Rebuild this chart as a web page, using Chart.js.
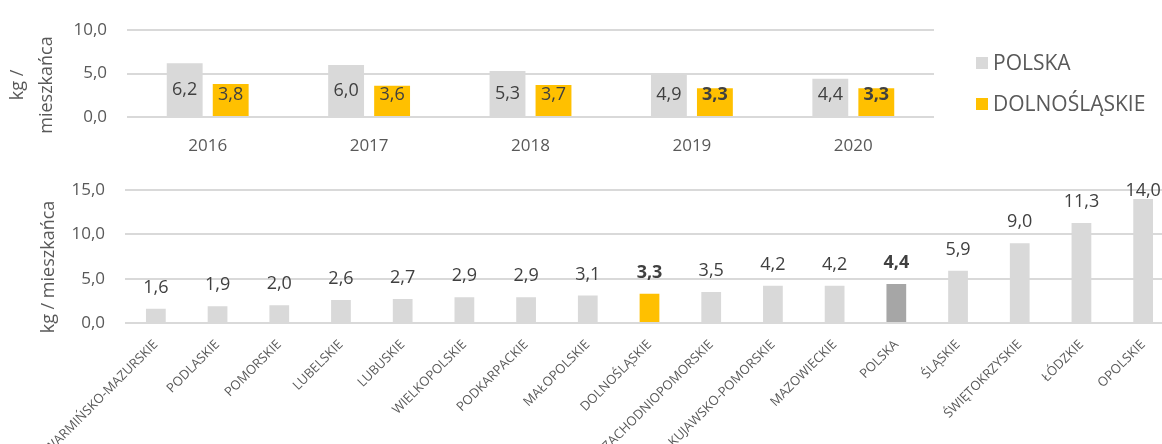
<!DOCTYPE html>
<html lang="pl">
<head>
<meta charset="utf-8">
<script src="https://cdn.jsdelivr.net/npm/chart.js@4.4.1/dist/chart.umd.min.js"></script>
<style>
  html,body{margin:0;padding:0;background:#fff;overflow:hidden;width:1162px;height:444px;}
  body{position:relative;font-family:"Open Sans",sans-serif;}
  #topWrap{position:absolute;left:0;top:0;width:1162px;height:165px;}
  #botWrap{position:absolute;left:0;top:160px;width:1200px;height:284px;}
  .ytitle{position:absolute;color:#595959;font-size:18px;white-space:nowrap;transform:translate(-50%,-50%) rotate(-90deg);line-height:1;}
  .legend{position:absolute;left:976px;color:#595959;font-size:21px;line-height:1;}
  .legend span{display:inline-block;width:12px;height:12px;margin-right:5px;vertical-align:1px;}
</style>
</head>
<body>
<div id="topWrap"><canvas id="topChart" width="1162" height="165"></canvas></div>
<div id="botWrap"><canvas id="botChart" width="1200" height="284"></canvas></div>

<div class="ytitle" style="left:16px;top:85px;">kg /</div>
<div class="ytitle" style="left:45px;top:85px;">mieszkańca</div>
<div class="ytitle" style="left:47px;top:267px;">kg / mieszkańca</div>

<div class="legend" style="top:52px;"><span style="background:#d9d9d9"></span>POLSKA</div>
<div class="legend" style="top:93px;"><span style="background:#ffc000"></span>DOLNOŚLĄSKIE</div>

<script>
// top chart: years
const years = ['2016','2017','2018','2019','2020'];
const polskaByYear = [6.2, 6.0, 5.3, 4.9, 4.4];
const dolnoByYear = [3.8, 3.6, 3.7, 3.3, 3.3];
const topTicks = [0, 5, 10];

// bottom chart: regions 2020
const regions = ['WARMIŃSKO-MAZURSKIE','PODLASKIE','POMORSKIE','LUBELSKIE','LUBUSKIE','WIELKOPOLSKIE',
  'PODKARPACKIE','MAŁOPOLSKIE','DOLNOŚLĄSKIE','ZACHODNIOPOMORSKIE','KUJAWSKO-POMORSKIE','MAZOWIECKIE',
  'POLSKA','ŚLĄSKIE','ŚWIĘTOKRZYSKIE','ŁÓDZKIE','OPOLSKIE'];
const regionValues = [1.6,1.9,2.0,2.6,2.7,2.9,2.9,3.1,3.3,3.5,4.2,4.2,4.4,5.9,9.0,11.3,14.0];
const botTicks = [0, 5, 10, 15];

const GRAY = '#d9d9d9', YELLOW = '#ffc000', DARK = '#a6a6a6';
const FONT = '"Open Sans", sans-serif';
const fmt = v => v.toFixed(1).replace('.', ',');

// value labels drawn on top of bars
const valueLabels = {
  id: 'valueLabels',
  afterDatasetsDraw(chart, args, opts) {
    const ctx = chart.ctx;
    ctx.save();
    ctx.textAlign = 'center';
    ctx.textBaseline = 'middle';
    ctx.fillStyle = '#404040';
    chart.data.datasets.forEach((ds, di) => {
      chart.getDatasetMeta(di).data.forEach((bar, i) => {
        const bold = opts.isBold(di, i);
        ctx.font = (bold ? 'bold ' : '') + '18px ' + FONT;
        let y;
        if (opts.mode === 'inside') {
          y = Math.min((bar.y + bar.base) / 2, bar.base - 21);
        } else {
          y = Math.max(bar.y - 21, chart.chartArea.top + 1);
        }
        ctx.fillText(fmt(ds.data[i]), bar.x, y);
      });
    });
    ctx.restore();
  }
};

new Chart(document.getElementById('topChart'), {
  type: 'bar',
  data: {
    labels: years,
    datasets: [
      {label: 'POLSKA', data: polskaByYear, backgroundColor: GRAY},
      {label: 'DOLNOŚLĄSKIE', data: dolnoByYear, backgroundColor: YELLOW}
    ]
  },
  options: {
    responsive: false,
    animation: false,
    layout: {padding: {left: 0, right: 228, top: 25, bottom: 0}},
    datasets: {bar: {categoryPercentage: 0.57, barPercentage: 0.78}},
    plugins: {
      legend: {display: false},
      tooltip: {enabled: false},
      valueLabels: {mode: 'inside', isBold: (di, i) => di === 1 && (years[i] === '2019' || years[i] === '2020')}
    },
    scales: {
      x: {
        grid: {display: false},
        border: {display: false},
        ticks: {color: '#595959', font: {family: FONT, size: 17}, padding: 11},
        afterFit: s => { s.height = 48; }
      },
      y: {
        min: 0, max: 10,
        afterBuildTicks: s => { s.ticks = topTicks.map(v => ({value: v})); },
        grid: {color: GRAY, lineWidth: 2, drawTicks: false},
        border: {display: false},
        ticks: {color: '#595959', font: {family: FONT, size: 17}, padding: 20, callback: v => fmt(v)},
        afterFit: s => { s.width = 127; }
      }
    }
  },
  plugins: [valueLabels]
});

new Chart(document.getElementById('botChart'), {
  type: 'bar',
  data: {
    labels: regions,
    datasets: [{
      data: regionValues,
      backgroundColor: regions.map(r => r === 'DOLNOŚLĄSKIE' ? YELLOW : (r === 'POLSKA' ? DARK : GRAY))
    }]
  },
  options: {
    responsive: false,
    animation: false,
    layout: {padding: {left: 0, right: 26, top: 28, bottom: 0}},
    datasets: {bar: {categoryPercentage: 0.8, barPercentage: 0.4}},
    plugins: {
      legend: {display: false},
      tooltip: {enabled: false},
      valueLabels: {mode: 'above', isBold: (di, i) => regions[i] === 'DOLNOŚLĄSKIE' || regions[i] === 'POLSKA'}
    },
    scales: {
      x: {
        grid: {display: false},
        border: {display: false},
        ticks: {color: '#595959', font: {family: FONT, size: 13}, padding: 6, minRotation: 45, maxRotation: 45, autoSkip: false},
        afterFit: s => { s.height = 121; }
      },
      y: {
        min: 0, max: 15,
        afterBuildTicks: s => { s.ticks = botTicks.map(v => ({value: v})); },
        grid: {color: GRAY, lineWidth: 2, drawTicks: false},
        border: {display: false},
        ticks: {color: '#595959', font: {family: FONT, size: 17}, padding: 20, callback: v => fmt(v)},
        afterFit: s => { s.width = 125; }
      }
    }
  },
  plugins: [valueLabels]
});
</script>
</body>
</html>
